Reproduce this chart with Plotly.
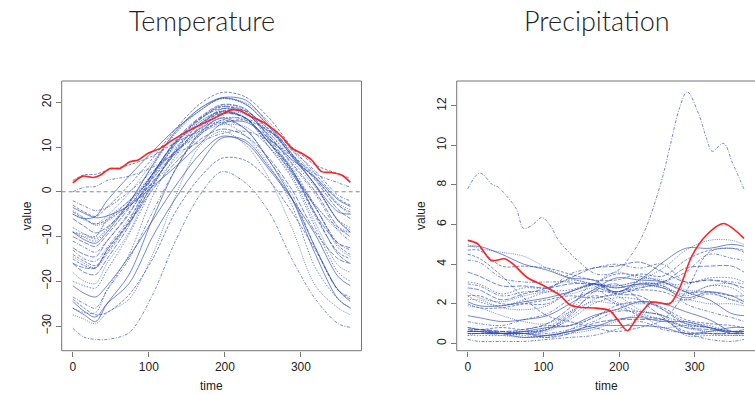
import plotly.graph_objects as go

# ---------------- data ----------------
DAYS = [0, 15, 30, 45, 74, 105, 135, 166, 196, 227, 258, 288, 319, 349, 365]

STATIONS = ["St. Johns", "Halifax", "Sydney", "Yarmouth", "Charlottetvl", "Fredericton",
            "Scheffervll", "Arvida", "Bagottville", "Quebec", "Sherbrooke", "Montreal",
            "Ottawa", "Toronto", "London", "Thunder Bay", "Winnipeg", "The Pas",
            "Churchill", "Regina", "Pr. Albert", "Uranium Cty", "Edmonton", "Calgary",
            "Kamloops", "Victoria", "Pr. George", "Pr. Rupert", "Whitehorse", "Dawson",
            "Yellowknife", "Iqaluit", "Inuvik", "Resolute"]

TEMP_VALUES = [
    [-3.5, -4.8, -5.8, -5.4, -3.1, 1.2, 5.6, 10.5, 15.2, 15.6, 11.9, 7.2, 3.2, -1.8, -3.3],
    [-4.5, -6.0, -7.2, -6.2, -2.0, 3.0, 9.0, 14.0, 18.0, 18.0, 14.0, 8.5, 3.0, -3.0, -4.5],
    [-4.2, -5.8, -7.5, -6.6, -2.8, 1.8, 7.3, 12.6, 17.4, 17.4, 13.2, 7.7, 2.9, -2.6, -4.0],
    [-2.0, -3.2, -4.2, -3.5, 0.0, 4.6, 9.0, 12.6, 16.0, 16.4, 13.6, 9.3, 4.6, -0.8, -2.0],
    [-6.0, -7.7, -9.2, -7.9, -3.4, 2.2, 8.6, 14.4, 18.5, 18.1, 13.8, 8.2, 2.6, -4.0, -6.0],
    [-8.0, -9.4, -10.5, -8.2, -2.6, 3.9, 10.6, 16.0, 19.3, 18.4, 13.2, 7.0, 1.0, -6.3, -8.0],
    [-21.0, -22.7, -23.5, -21.0, -14.5, -6.4, 1.3, 8.2, 12.4, 11.0, 5.0, -1.6, -9.6, -19.0, -21.0],
    [-14.0, -15.5, -16.5, -13.6, -6.8, 1.5, 9.3, 15.0, 17.8, 16.5, 10.9, 4.2, -3.5, -12.0, -14.0],
    [-14.5, -16.0, -17.0, -14.0, -7.0, 1.5, 9.0, 15.0, 18.0, 16.5, 11.0, 4.0, -3.5, -12.5, -14.5],
    [-11.0, -12.4, -13.5, -11.0, -4.6, 3.3, 10.8, 16.3, 19.1, 17.6, 12.5, 6.1, -0.6, -8.7, -11.0],
    [-10.0, -11.3, -12.2, -9.6, -3.6, 4.1, 11.2, 16.2, 18.6, 17.5, 12.6, 6.4, 0.0, -7.9, -10.0],
    [-9.0, -10.2, -11.0, -8.5, -2.4, 5.7, 13.0, 18.0, 20.8, 19.5, 14.5, 8.0, 1.5, -6.5, -8.5],
    [-9.0, -10.7, -11.5, -9.0, -2.5, 6.0, 13.5, 18.5, 21.0, 19.6, 14.6, 7.9, 1.4, -6.5, -9.0],
    [-3.0, -4.5, -5.5, -3.5, 1.5, 7.5, 14.0, 19.5, 22.2, 21.2, 16.5, 10.0, 4.0, -1.5, -3.0],
    [-5.0, -6.3, -7.2, -5.4, -0.3, 6.6, 13.2, 18.5, 20.8, 19.9, 15.6, 9.3, 3.3, -2.9, -5.0],
    [-13.0, -15.0, -15.5, -12.5, -6.0, 2.0, 8.7, 13.5, 17.5, 16.5, 11.0, 4.8, -3.5, -11.5, -13.0],
    [-16.0, -18.0, -18.5, -15.0, -7.5, 3.5, 11.5, 16.5, 19.5, 18.5, 12.0, 5.0, -5.0, -14.0, -16.0],
    [-20.0, -21.0, -21.5, -17.5, -9.5, 1.0, 9.5, 15.5, 18.0, 16.5, 10.0, 3.0, -8.0, -18.0, -20.0],
    [-24.5, -26.7, -28.0, -25.0, -20.5, -10.0, -1.5, 6.0, 12.0, 11.5, 5.5, -1.5, -12.5, -22.0, -24.5],
    [-15.0, -16.5, -17.0, -13.0, -6.5, 4.0, 11.0, 16.0, 19.0, 18.0, 11.5, 4.5, -5.5, -13.5, -15.0],
    [-18.0, -20.0, -20.5, -16.0, -9.0, 2.5, 10.5, 15.5, 18.0, 16.5, 10.0, 3.5, -7.0, -16.5, -18.0],
    [-23.5, -25.0, -26.0, -22.0, -15.0, -4.5, 5.0, 12.5, 16.0, 14.0, 7.0, -0.5, -12.5, -22.0, -23.5],
    [-12.5, -14.0, -14.5, -11.0, -5.0, 4.0, 11.0, 15.0, 17.5, 16.5, 11.0, 5.0, -5.0, -11.5, -12.5],
    [-9.0, -9.5, -10.0, -6.5, -3.0, 4.0, 10.0, 14.0, 16.5, 16.0, 11.0, 5.5, -3.0, -8.0, -9.0],
    [-5.0, -6.0, -5.5, -2.0, 3.5, 9.0, 14.0, 18.0, 21.0, 20.5, 15.0, 8.5, 1.5, -4.5, -5.0],
    [2.5, 3.8, 3.9, 4.8, 6.0, 8.0, 11.0, 13.5, 15.5, 16.0, 13.5, 10.0, 6.0, 4.0, 3.0],
    [-9.0, -10.0, -10.0, -6.0, -2.0, 4.0, 9.0, 13.0, 15.0, 14.5, 10.0, 4.5, -3.0, -8.5, -9.0],
    [0.0, 1.0, 1.2, 2.5, 3.5, 5.5, 8.5, 11.0, 13.0, 13.5, 11.5, 8.0, 4.0, 2.0, 1.0],
    [-16.0, -17.0, -17.0, -13.0, -7.0, 0.5, 6.5, 11.5, 14.0, 12.5, 7.5, 0.5, -9.0, -15.0, -16.0],
    [-26.0, -27.0, -27.0, -22.0, -14.0, -1.0, 8.0, 14.0, 15.5, 12.5, 6.0, -3.0, -17.0, -24.0, -26.0],
    [-26.0, -27.5, -29.0, -25.0, -18.5, -6.0, 5.0, 13.0, 16.5, 14.0, 7.0, -1.5, -14.0, -24.0, -26.0],
    [-24.0, -26.0, -27.5, -27.0, -23.0, -15.0, -4.5, 3.0, 7.5, 7.0, 2.5, -4.5, -13.0, -22.0, -24.0],
    [-27.5, -28.5, -29.5, -27.0, -24.0, -14.0, -1.0, 10.0, 13.5, 10.5, 3.0, -8.0, -21.0, -26.0, -27.5],
    [-30.5, -32.5, -33.0, -33.0, -31.5, -23.0, -11.0, -1.0, 4.5, 2.0, -4.5, -15.0, -24.0, -29.5, -30.3],
]

PRECIP_DAYS = [0, 15, 45, 74, 105, 135, 166, 196, 227, 258, 288, 319, 349, 365]
PRECIP_VALUES = [
    [4.9, 4.9, 4.5, 4.0, 3.7, 3.3, 3.2, 2.6, 3.2, 4.1, 4.8, 4.8, 5.0, 4.9],
    [4.7, 4.7, 3.9, 3.9, 3.8, 3.5, 3.2, 3.2, 3.5, 3.4, 4.2, 4.7, 4.8, 4.7],
    [5.0, 4.8, 4.6, 4.4, 3.8, 3.3, 3.0, 2.9, 3.2, 3.8, 4.7, 5.2, 5.2, 5.0],
    [4.2, 4.1, 3.3, 3.1, 3.1, 3.1, 2.9, 2.5, 2.8, 3.1, 3.6, 4.5, 4.3, 4.2],
    [3.6, 3.4, 2.9, 2.9, 2.8, 3.0, 3.0, 2.6, 3.0, 3.1, 3.8, 3.9, 3.9, 3.6],
    [3.1, 3.0, 2.5, 2.8, 2.8, 3.2, 3.0, 2.8, 3.0, 3.0, 3.0, 3.3, 3.3, 3.1],
    [1.4, 1.3, 1.1, 1.2, 1.4, 2.0, 2.7, 3.3, 3.2, 3.1, 2.6, 2.2, 1.5, 1.4],
    [2.4, 2.4, 2.0, 2.0, 2.0, 2.6, 3.0, 3.5, 3.4, 3.1, 2.6, 2.6, 2.4, 2.4],
    [2.2, 2.2, 1.8, 1.7, 1.9, 2.6, 3.0, 3.6, 3.3, 3.2, 2.7, 2.6, 2.2, 2.2],
    [3.0, 2.9, 2.4, 2.6, 2.7, 3.5, 3.8, 4.0, 3.8, 4.0, 3.1, 3.2, 3.1, 3.0],
    [2.8, 2.7, 2.2, 2.5, 2.8, 3.3, 3.8, 3.9, 4.1, 3.6, 3.1, 3.2, 3.0, 2.8],
    [2.4, 2.1, 1.9, 2.2, 2.6, 2.7, 3.0, 2.9, 3.1, 2.9, 2.4, 2.9, 2.8, 2.4],
    [2.1, 1.9, 1.9, 2.1, 2.3, 2.6, 3.0, 2.8, 3.0, 2.8, 2.3, 2.6, 2.4, 2.1],
    [2.0, 1.8, 1.8, 2.0, 2.2, 2.4, 2.3, 2.5, 2.7, 2.6, 2.2, 2.5, 2.2, 2.0],
    [2.6, 2.3, 2.1, 2.4, 2.6, 2.5, 2.8, 2.6, 2.9, 2.8, 2.5, 2.9, 3.0, 2.6],
    [1.1, 1.0, 0.9, 1.2, 1.5, 2.2, 2.6, 2.6, 2.8, 2.9, 2.0, 1.6, 1.3, 1.1],
    [0.7, 0.7, 0.6, 0.7, 1.0, 1.8, 3.0, 2.5, 2.4, 1.7, 1.0, 0.8, 0.6, 0.7],
    [0.6, 0.6, 0.6, 0.6, 0.7, 1.2, 2.0, 2.3, 2.2, 1.7, 1.1, 0.9, 0.6, 0.6],
    [0.6, 0.6, 0.5, 0.6, 0.8, 0.9, 1.4, 1.7, 2.1, 2.0, 1.6, 1.2, 0.6, 0.6],
    [0.5, 0.5, 0.5, 0.6, 0.7, 1.5, 2.4, 2.0, 1.4, 1.2, 0.6, 0.5, 0.5, 0.5],
    [0.6, 0.6, 0.5, 0.6, 0.6, 1.3, 2.2, 2.4, 1.7, 1.4, 0.8, 0.6, 0.6, 0.6],
    [0.5, 0.5, 0.5, 0.5, 0.5, 0.7, 1.1, 1.6, 1.6, 1.4, 1.0, 0.8, 0.5, 0.5],
    [0.6, 0.7, 0.6, 0.5, 0.7, 1.4, 2.6, 3.0, 2.2, 1.3, 0.5, 0.5, 0.5, 0.6],
    [0.4, 0.4, 0.4, 0.5, 0.8, 1.6, 2.7, 2.1, 1.6, 1.4, 0.4, 0.4, 0.4, 0.4],
    [0.8, 0.7, 0.5, 0.3, 0.4, 0.6, 0.9, 0.9, 0.9, 0.8, 0.5, 0.6, 0.8, 0.8],
    [4.5, 4.3, 3.4, 2.3, 1.4, 1.1, 0.8, 0.6, 0.8, 1.2, 2.6, 4.6, 4.8, 4.6],
    [1.9, 1.8, 1.4, 1.1, 1.0, 1.6, 2.1, 2.0, 2.0, 2.0, 2.2, 2.0, 2.0, 1.9],
    None,  # Pr. Rupert has its own finer series below
    [0.6, 0.6, 0.5, 0.5, 0.3, 0.5, 1.0, 1.2, 1.2, 1.2, 0.8, 0.7, 0.6, 0.6],
    [0.6, 0.6, 0.5, 0.4, 0.3, 0.7, 1.3, 1.7, 1.5, 1.2, 0.9, 0.8, 0.6, 0.6],
    [0.5, 0.5, 0.5, 0.5, 0.4, 0.6, 0.8, 1.2, 1.3, 1.1, 1.1, 0.8, 0.5, 0.5],
    [0.8, 0.7, 0.8, 0.7, 0.9, 0.9, 1.3, 1.9, 2.1, 1.8, 1.2, 1.0, 0.9, 0.8],
    [0.4, 0.5, 0.4, 0.3, 0.4, 0.5, 0.7, 1.1, 1.4, 0.8, 0.9, 0.5, 0.4, 0.4],
    [0.2, 0.1, 0.1, 0.1, 0.2, 0.3, 0.4, 0.7, 1.1, 0.7, 0.5, 0.2, 0.1, 0.2],
]

RUPERT_PRECIP_DAYS = [0, 16, 33, 40, 50, 64, 74, 86, 98, 110, 120, 145, 170, 195, 215,
                      234, 256, 267, 280, 290, 305, 316, 323, 338, 350, 365]
RUPERT_PRECIP = [7.8, 8.6, 8.0, 7.9, 7.5, 6.8, 5.8, 6.0, 6.35, 5.9, 5.2, 4.2, 3.5, 3.6, 4.4,
                 5.7, 8.2, 9.9, 11.9, 12.7, 11.6, 10.3, 9.7, 10.1, 9.1, 7.8]

# highlighted station (Vancouver)
RED_TEMP_DAYS = [0, 13, 27, 36, 49, 62, 75, 86, 99, 115, 128, 145, 167, 190, 209, 220, 231,
                 253, 275, 288, 301, 314, 327, 340, 354, 365]
RED_TEMP = [2.0, 3.5, 3.2, 3.7, 5.2, 5.2, 6.7, 7.1, 8.6, 9.7, 11.2, 13.0, 14.9, 16.8, 18.3,
            18.1, 17.1, 15.3, 12.3, 9.7, 8.6, 7.1, 4.5, 4.3, 3.7, 2.1]
RED_PRECIP_DAYS = [0, 13, 31, 49, 60, 78, 100, 122, 135, 148, 170, 188, 197, 211, 223, 243,
                   267, 280, 296, 315, 338, 365]
RED_PRECIP = [5.2, 5.03, 4.19, 4.27, 4.0, 3.34, 2.92, 2.42, 1.95, 1.82, 1.78, 1.65, 1.25,
              0.64, 1.25, 2.08, 2.0, 2.8, 4.4, 5.45, 6.05, 5.3]

X_TICKS = [0, 100, 200, 300]
TEMP_TICKS = [-30, -20, -10, 0, 10, 20]
PRECIP_TICKS = [0, 2, 4, 6, 8, 10, 12]

# ---------------- styling ----------------
W, H = 755, 395
BLUE = "rgba(40,72,178,0.72)"
RED = "#ff2020"
BOX = "#777777"
DASHES = ["solid", "3px,1.5px", "1px,1.2px", "3px,1.5px,1px,1.5px", "5px,1.5px", "1.5px,1.5px"]
TICKFONT = dict(family="Liberation Sans, Arial", size=12, color="#222222")


def px(x):
    return x / W


def py(y):
    return 1 - y / H


fig = go.Figure()

for i, vals in enumerate(TEMP_VALUES):
    fig.add_trace(go.Scatter(x=DAYS, y=vals, mode="lines", xaxis="x", yaxis="y",
                             line=dict(color=BLUE, width=0.9, dash=DASHES[i % len(DASHES)],
                                       shape="spline", smoothing=0.9),
                             hoverinfo="skip", showlegend=False))
fig.add_trace(go.Scatter(x=RED_TEMP_DAYS, y=RED_TEMP, mode="lines", xaxis="x", yaxis="y",
                         line=dict(color=RED, width=1.6, shape="spline", smoothing=0.8),
                         hoverinfo="skip", showlegend=False))

for i, vals in enumerate(PRECIP_VALUES):
    if vals is None:
        xs, ys = RUPERT_PRECIP_DAYS, RUPERT_PRECIP
    else:
        xs, ys = PRECIP_DAYS, vals
    fig.add_trace(go.Scatter(x=xs, y=ys, mode="lines", xaxis="x2", yaxis="y2",
                             line=dict(color=BLUE, width=0.9, dash=DASHES[i % len(DASHES)],
                                       shape="spline", smoothing=1.0),
                             hoverinfo="skip", showlegend=False))
fig.add_trace(go.Scatter(x=RED_PRECIP_DAYS, y=RED_PRECIP, mode="lines", xaxis="x2", yaxis="y2",
                         line=dict(color=RED, width=1.6, shape="spline", smoothing=0.8),
                         hoverinfo="skip", showlegend=False))

Y_TOP, Y_BOT = 81, 350.7
common_x = dict(tickvals=X_TICKS, ticks="outside", ticklen=5, tickcolor=BOX, tickwidth=1,
                showline=False, showgrid=False, zeroline=False, tickfont=TICKFONT,
                range=[-14.6, 379.6])
common_y = dict(ticks="outside", ticklen=5, tickcolor=BOX, tickwidth=1, showline=False,
                showgrid=False, zeroline=False, tickfont=TICKFONT, tickangle=-90)

fig.update_layout(
    width=W, height=H, margin=dict(l=0, r=0, t=0, b=0),
    paper_bgcolor="white", plot_bgcolor="white",
    xaxis=dict(domain=[px(61.7), px(361.5)], anchor="y", **common_x),
    yaxis=dict(domain=[py(Y_BOT), py(Y_TOP)], anchor="x", range=[-35.52, 24.76],
               tickvals=TEMP_TICKS, **common_y),
    xaxis2=dict(domain=[px(456.7), 1.0], anchor="y2", **common_x),
    yaxis2=dict(domain=[py(Y_BOT), py(Y_TOP)], anchor="x2", range=[-0.37, 13.25],
                tickvals=PRECIP_TICKS, **common_y),
    shapes=[
        dict(type="rect", xref="x domain", yref="y domain", x0=0, x1=1, y0=0, y1=1,
             line=dict(color=BOX, width=1), layer="above"),
        dict(type="rect", xref="x2 domain", yref="y2 domain", x0=0, x1=1.01, y0=0, y1=1,
             line=dict(color=BOX, width=1), layer="above"),
        dict(type="line", xref="x domain", yref="y", x0=0, x1=1, y0=0, y1=0,
             line=dict(color="#888888", width=1, dash="4px,3px"), layer="above"),
    ],
)

TITLE_FONT = dict(family="Lato", size=27, color="#222222", weight=300)
LABEL_FONT = dict(family="Liberation Sans, Arial", size=12, color="#222222")
annotations = [
    dict(text="Temperature", x=px(201.7), y=py(20), font=TITLE_FONT),
    dict(text="Precipitation", x=px(596.7), y=py(20), font=TITLE_FONT),
    dict(text="time", x=px(211.6), y=py(386), font=LABEL_FONT),
    dict(text="time", x=px(606), y=py(386), font=LABEL_FONT),
    dict(text="value", x=px(26.7), y=py(215.5), font=LABEL_FONT, textangle=-90),
    dict(text="value", x=px(420.5), y=py(215.5), font=LABEL_FONT, textangle=-90),
]
for a in annotations:
    a.update(xref="paper", yref="paper", showarrow=False, xanchor="center", yanchor="middle")
fig.update_layout(annotations=annotations)

fig.write_html("out.html")
